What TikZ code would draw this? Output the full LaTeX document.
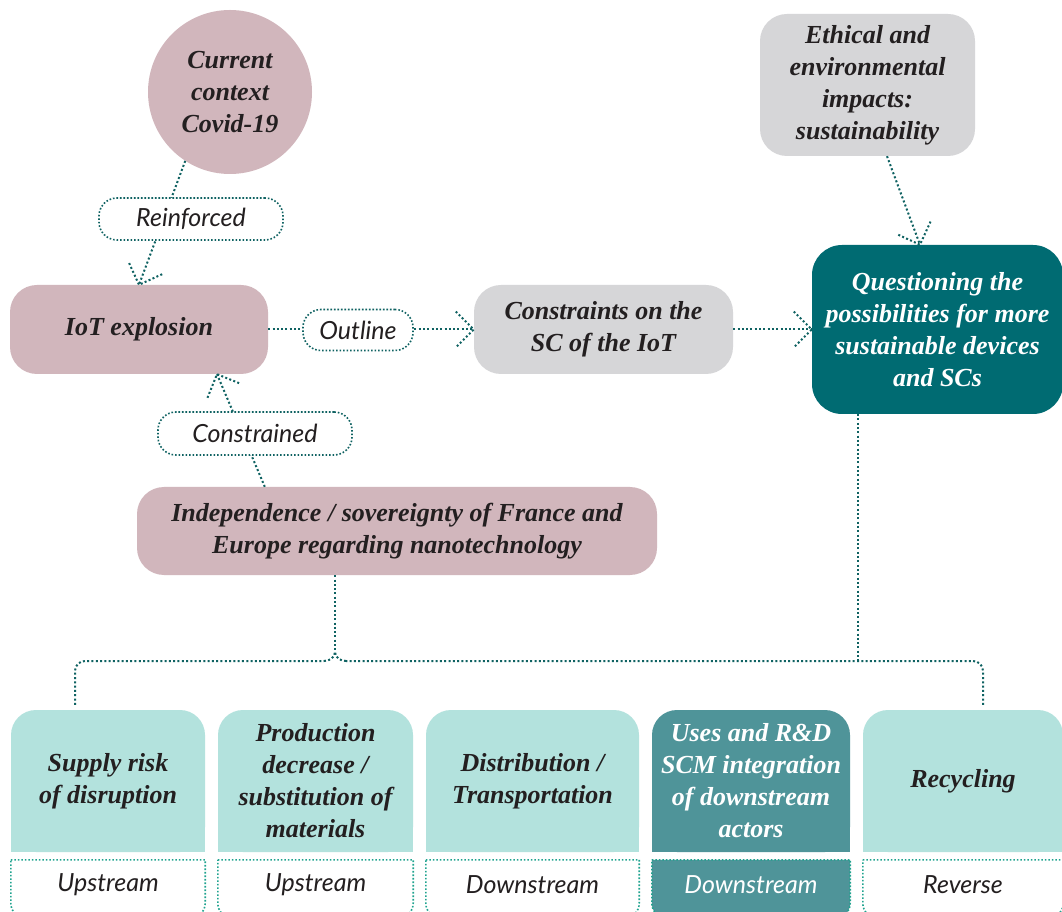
\documentclass[tikz,border=0pt]{standalone}
\usepackage{fontspec}
\setmainfont{Liberation Serif}
\newfontfamily\lblfont{Lato}
\usetikzlibrary{decorations.markings,backgrounds}
\definecolor{mauve}{HTML}{D1B6BC}
\definecolor{greyb}{HTML}{D6D6D8}
\definecolor{tealdark}{HTML}{006B72}
\definecolor{lteal}{HTML}{B3E2DD}
\definecolor{mteal}{HTML}{4F9499}
\definecolor{conncol}{HTML}{0F6262}
\definecolor{lblline}{HTML}{1FA38F}
\definecolor{txt}{HTML}{231F20}
\tikzset{
  conndots/.style={draw=conncol, line width=2pt, dash pattern=on 2pt off 2.3pt},
  arr/.style={conndots, postaction={decorate},
    decoration={markings, mark=at position 1 with {\draw[conndots] (-18pt,18pt) -- (0,0) -- (-18pt,-18pt);}}},
  boxfont/.style={font=\bfseries\itshape\fontsize{26}{32}\selectfont},
  box/.style={boxfont, rounded corners=27pt, inner sep=0pt, align=center, text=txt},
  circbox/.style={boxfont, circle, inner sep=0pt, align=center, text=txt, fill=mauve, minimum size=164pt},
  lbl/.style={draw=conncol, line width=1.6pt, dash pattern=on 1.6pt off 1.9pt, fill=white,
    rounded corners=18pt, inner sep=0pt, text=txt, font=\lblfont\itshape\fontsize{25}{30}\selectfont},
  bbox/.style={boxfont, fill=lteal, rounded corners=25pt, inner sep=0pt, align=center, text=txt, minimum height=142pt},
  blbl/.style={inner sep=0pt, text=txt, minimum height=50pt, font=\lblfont\itshape\fontsize{25}{30}\selectfont},
  blline/.style={draw=lblline, line width=1.6pt, dash pattern=on 1.6pt off 1.9pt}
}
\begin{document}
\begin{tikzpicture}[x=1pt,y=1pt]
\useasboundingbox (0,0) rectangle (1062,911);
\clip (0,0) rectangle (1062,911);

% main nodes
\node[circbox] (covid) at (230,819) {Current\\context\\Covid-19};
\node[box, fill=mauve, minimum width=258pt, minimum height=89pt] (iot) at (139,581.5) {IoT explosion};
\node[box, fill=greyb, minimum width=259pt, minimum height=89pt] (cons) at (603.5,581.5) {Constraints on the\\SC of the IoT};
\node[box, fill=tealdark, text=white, minimum width=251pt, minimum height=169pt, rounded corners=30pt] (quest) at (937.5,581.5) {Questioning the\\possibilities for more\\sustainable devices\\and SCs};
\node[box, fill=greyb, minimum width=215pt, minimum height=142pt] (eth) at (867.5,826) {Ethical and\\environmental\\impacts:\\sustainability};
\node[box, fill=mauve, minimum width=520pt, minimum height=88pt] (indep) at (397,380) {Independence / sovereignty of France and\\Europe regarding nanotechnology};

% bottom boxes
\node[bbox, minimum width=194pt] (b1) at (108,130) {Supply risk\\of disruption};
\node[bbox, minimum width=195pt] (b2) at (315.5,130) {Production\\decrease /\\substitution of\\materials};
\node[bbox, minimum width=213pt] (b3) at (532.5,130) {Distribution /\\Transportation};
\node[bbox, minimum width=198pt, fill=mteal, text=white] (b4) at (751,130) {Uses and R\&D\\SCM integration\\of downstream\\actors};
\node[bbox, minimum width=200pt] (b5) at (963,130) {Recycling};

% bottom labels
\node[blbl, minimum width=194pt] (l1) at (108,26) {Upstream};
\node[blbl, minimum width=195pt] (l2) at (315.5,26) {Upstream};
\node[blbl, minimum width=213pt] (l3) at (532.5,26) {Downstream};
\node[blbl, minimum width=198pt, text=white] (l4) at (751,26) {Downstream};
\node[blbl, minimum width=200pt] (l5) at (963,26) {Reverse};

\begin{scope}[on background layer]
  \fill[white] (0,0) rectangle (1062,911);
  \fill[lteal] (b1.south west) rectangle (b1.east);
  \fill[lteal] (b2.south west) rectangle (b2.east);
  \fill[lteal] (b3.south west) rectangle (b3.east);
  \fill[mteal] (b4.south west) rectangle (b4.east);
  \fill[lteal] (b5.south west) rectangle (b5.east);
  \foreach \n in {l1,l2,l3,l5}{
    \draw[blline] (\n.north west) -- (\n.north east) -- ([yshift=7pt]\n.south east)
      arc[start angle=0,end angle=-90,radius=15pt] -- ([xshift=15pt,yshift=-8pt]\n.south west)
      arc[start angle=270,end angle=180,radius=15pt] -- cycle;
  }
  \filldraw[blline, fill=mteal] (l4.north west) -- (l4.north east) -- ([yshift=7pt]l4.south east)
      arc[start angle=0,end angle=-90,radius=15pt] -- ([xshift=15pt,yshift=-8pt]l4.south west)
      arc[start angle=270,end angle=180,radius=15pt] -- cycle;
\end{scope}

% connectors
\draw[arr] (covid.237) -- (iot.north);
\draw[arr] (iot.east) -- (cons.west);
\draw[arr] (cons.east) -- (quest.west);
\draw[arr] ([xshift=19.5pt]eth.south) -- ([xshift=-17.5pt]quest.north);
\draw[arr] ([xshift=128pt]indep.north west) -- ([xshift=78pt]iot.south);

% bus
\coordinate (jn) at (335,259);
\coordinate (jl) at (324,250);
\coordinate (jr) at (346,250);
\draw[conndots] ([xshift=-62pt]indep.south) -- (jn);
\draw[conndots] (jl) to[out=0,in=-90] (jn);
\draw[conndots] (jr) to[out=180,in=-90] (jn);
\draw[conndots, rounded corners=10pt] ([xshift=-33pt,yshift=5pt]b1.north) |- (jl);
\draw[conndots, rounded corners=10pt] ([xshift=20pt,yshift=5pt]b5.north) |- (jr);
\draw[conndots] ([xshift=-79.5pt]quest.south) -- ([xshift=-79.5pt]quest.south |- jr);

% labels on connectors
\node[lbl, minimum width=184pt, minimum height=42pt] (reinf) at (191,692) {Reinforced};
\node[lbl, minimum width=110pt, minimum height=41pt] (outl) at (358,581) {Outline};
\node[lbl, minimum width=194pt, minimum height=43pt] (constr) at (255,477.5) {Constrained};
\end{tikzpicture}
\end{document}
